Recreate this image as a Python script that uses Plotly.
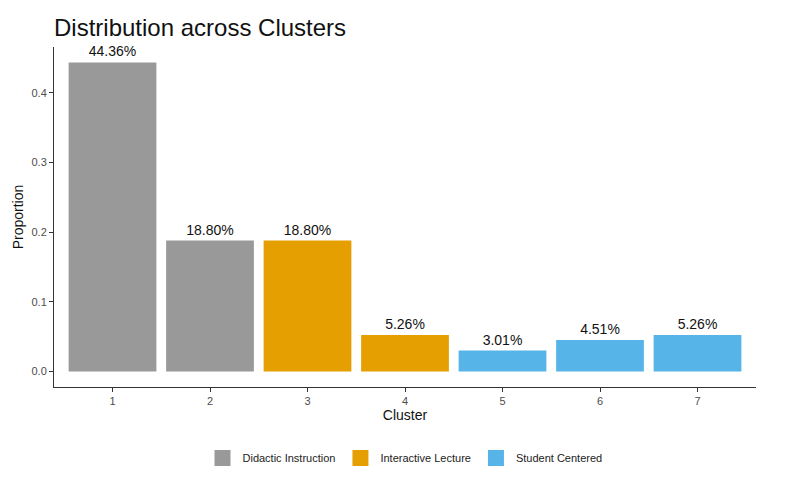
import plotly.graph_objects as go

clusters = ["1", "2", "3", "4", "5", "6", "7"]
proportions = [0.4436, 0.1880, 0.1880, 0.0526, 0.0301, 0.0451, 0.0526]
labels = ["44.36%", "18.80%", "18.80%", "5.26%", "3.01%", "4.51%", "5.26%"]
groups = ["Didactic Instruction", "Didactic Instruction", "Interactive Lecture",
          "Interactive Lecture", "Student Centered", "Student Centered", "Student Centered"]
group_names = ["Didactic Instruction", "Interactive Lecture", "Student Centered"]
group_colors = ["#999999", "#E69F00", "#56B4E9"]

fig = go.Figure()
for g, c in zip(group_names, group_colors):
    idx = [i for i, gg in enumerate(groups) if gg == g]
    fig.add_trace(go.Bar(
        x=[clusters[i] for i in idx],
        y=[proportions[i] for i in idx],
        text=[labels[i] for i in idx],
        textposition="outside",
        textfont=dict(size=14, color="#111111", family="Liberation Sans, Arial"),
        marker=dict(color=c, line=dict(width=0)),
        width=0.9,
        name=g,
        showlegend=False,
        cliponaxis=False,
    ))
    # legend entry with larger square key (like ggplot)
    fig.add_trace(go.Scatter(
        x=[None], y=[None], mode="markers",
        marker=dict(symbol="square", size=21, color=c),
        name=g, showlegend=True,
    ))

fig.update_layout(
    width=776, height=475,
    barmode="overlay",
    paper_bgcolor="white", plot_bgcolor="white",
    margin=dict(l=46, r=28, t=39, b=95),
    font=dict(family="Liberation Sans, Arial", color="#222222"),
    title=dict(text="Distribution across Clusters", x=0, xref="paper", xanchor="left",
               y=1 - 20 / 475, yanchor="middle", font=dict(size=24, color="#111111")),
    legend=dict(orientation="h", x=0.5, xanchor="center", y=-0.205, yanchor="middle",
                font=dict(size=11, color="#222222"), itemsizing="trace",
                traceorder="normal"),
)
fig.update_xaxes(
    type="category", categoryorder="array", categoryarray=clusters,
    range=[-0.6, 6.6], showgrid=False, zeroline=False,
    showline=True, linecolor="#333333", linewidth=1,
    ticks="outside", ticklen=4, tickcolor="#333333",
    tickfont=dict(size=11, color="#4D4D4D"),
    title=dict(text="Cluster", font=dict(size=14, color="#111111"), standoff=1),
)
fig.update_yaxes(
    range=[-0.0222, 0.4658], tickvals=[0, 0.1, 0.2, 0.3, 0.4],
    ticktext=["0.0", "0.1", "0.2", "0.3", "0.4"],
    showgrid=False, zeroline=False, automargin=False,
    showline=True, linecolor="#333333", linewidth=1,
    ticks="outside", ticklen=4, tickcolor="#333333",
    tickfont=dict(size=11, color="#4D4D4D"),
    title=dict(text="Proportion", font=dict(size=14, color="#111111"), standoff=4),
)

fig.write_html("out.html")
